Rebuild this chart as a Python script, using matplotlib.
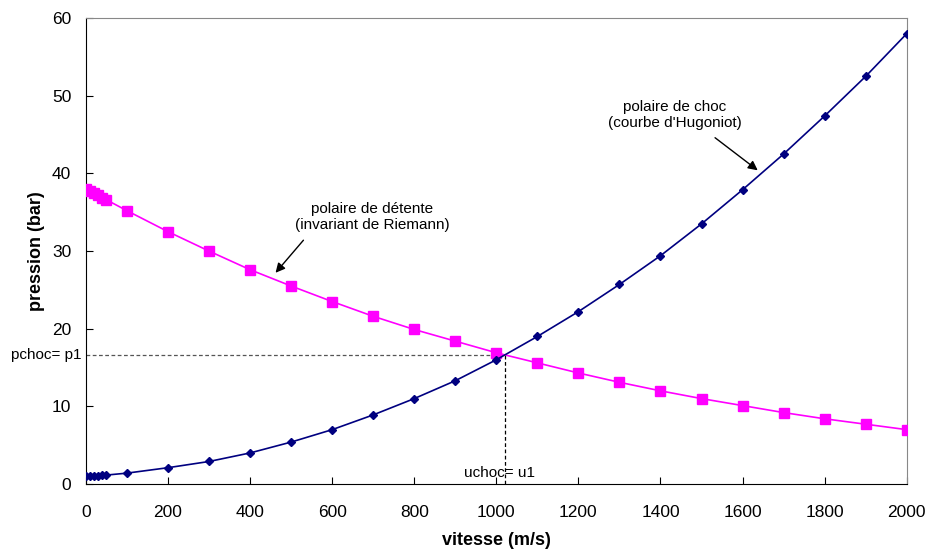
import matplotlib.pyplot as plt

plt.rcParams['font.family'] = ['Liberation Sans', 'DejaVu Sans']

# vitesse (m/s)
vitesse = [0, 10, 20, 30, 40, 50, 100, 200, 300, 400, 500, 600, 700, 800, 900,
           1000, 1100, 1200, 1300, 1400, 1500, 1600, 1700, 1800, 1900, 2000]

# polaire de choc (courbe d'Hugoniot)
p_choc = [1.0, 1.02, 1.05, 1.08, 1.11, 1.15, 1.4, 2.1, 2.9, 4.0, 5.4, 7.0, 8.9,
          11.0, 13.3, 16.0, 19.0, 22.2, 25.7, 29.4, 33.5, 37.9, 42.5, 47.4, 52.5, 58.0]

# polaire de détente (invariant de Riemann)
p_detente = [38.0, 37.8, 37.5, 37.2, 36.9, 36.6, 35.2, 32.5, 30.0, 27.6, 25.5,
             23.5, 21.6, 19.9, 18.4, 16.9, 15.6, 14.3, 13.1, 12.0, 11.0, 10.1,
             9.2, 8.4, 7.7, 7.0]

# point de choc
u1 = 1020
p1 = 16.6

fig = plt.figure(figsize=(9.29, 5.5), dpi=100)
ax = fig.add_axes([0.0925, 0.12, 0.8835, 0.847])

ax.plot(vitesse, p_detente, color='#ff00ff', lw=1.2, marker='s', ms=6.5, zorder=3)
ax.plot(vitesse, p_choc, color='#000080', lw=1.2, marker='D', ms=4.5, zorder=4)

# lignes pointillées vers le point de choc
ax.plot([0, u1], [p1, p1], color='#555555', ls='--', lw=0.9, dashes=(3, 2))
ax.plot([u1, u1], [0, p1], color='black', ls='--', lw=0.9, dashes=(3, 2))

ax.set_xlim(0, 2000)
ax.set_ylim(0, 60)
ax.set_xticks(range(0, 2001, 200))
ax.set_yticks(range(0, 61, 10))
ax.tick_params(direction='in', length=5, labelsize=12.5)
ax.tick_params(axis='y', pad=10.5)
ax.tick_params(axis='x', pad=15)

for s in ['top', 'right']:
    ax.spines[s].set_color('#888888')
for s in ['left', 'bottom']:
    ax.spines[s].set_color('black')

ax.set_xlabel('vitesse (m/s)', fontsize=13, fontweight='bold', labelpad=9)
ax.set_ylabel('pression (bar)', fontsize=13, fontweight='bold', labelpad=5)

ax.text(-10, p1, 'pchoc= p1', fontsize=11, ha='right', va='center', clip_on=False)
ax.text(1007, 1.4, 'uchoc= u1', fontsize=11, ha='center', va='center')

ax.text(698, 34.4, "polaire de détente\n(invariant de Riemann)", fontsize=11,
        ha='center', va='center', linespacing=1.15)
ax.annotate('', xy=(462, 27.2), xytext=(530, 31.4),
            arrowprops=dict(arrowstyle='-|>', color='black', lw=1, mutation_scale=14,
                            shrinkA=0, shrinkB=0))
ax.text(1435, 47.5, "polaire de choc\n(courbe d'Hugoniot)", fontsize=11,
        ha='center', va='center', linespacing=1.15)
ax.annotate('', xy=(1637, 40.4), xytext=(1533, 44.6),
            arrowprops=dict(arrowstyle='-|>', color='black', lw=1, mutation_scale=14,
                            shrinkA=0, shrinkB=0))

fig.savefig('out.png', dpi=100)
